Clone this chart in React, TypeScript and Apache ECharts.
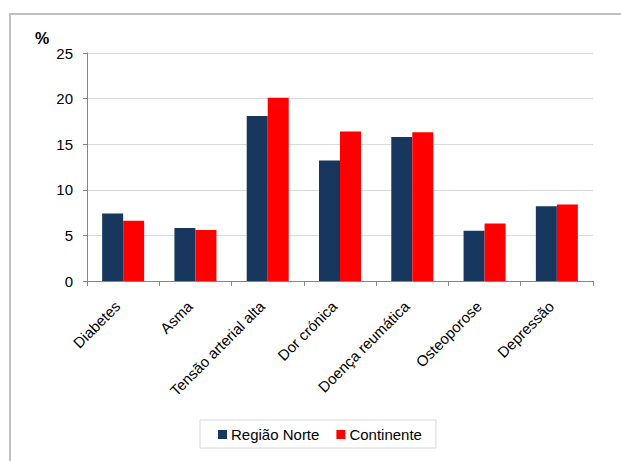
import React, { useEffect, useRef } from "react";
import * as echarts from "echarts";

const categories = [
  "Diabetes",
  "Asma",
  "Tensão arterial alta",
  "Dor crónica",
  "Doença reumática",
  "Osteoporose",
  "Depressão",
];
const regiaoNorte = [7.4, 5.8, 18.1, 13.2, 15.8, 5.5, 8.2];
const continente = [6.6, 5.6, 20.1, 16.4, 16.3, 6.3, 8.4];
const seriesNames = ["Região Norte", "Continente"];

export default function App() {
  const ref = useRef<HTMLDivElement>(null);
  useEffect(() => {
    if (!ref.current) return;
    const chart = echarts.init(ref.current, null, { renderer: "svg" });
    const font = "'Liberation Sans', Arial, sans-serif";
    chart.setOption({
      animation: false,
      textStyle: { fontFamily: font },
      graphic: [
        {
          type: "rect",
          shape: { x: 10, y: 14, width: 700, height: 500 },
          style: { fill: "none", stroke: "#bfbfbf", lineWidth: 2 },
          silent: true,
        },
        {
          type: "text",
          left: 35,
          top: 30,
          style: { text: "%", font: "bold 16px " + font, fill: "#000" },
        },
      ],
      grid: { left: 87, right: 28, top: 53, bottom: 180 },
      legend: {
        data: seriesNames,
        left: 200,
        top: 420,
        padding: [7, 14, 6, 18],
        borderColor: "#d9d9d9",
        borderWidth: 1,
        itemWidth: 9,
        itemHeight: 9,
        itemGap: 17,
        icon: "rect",
        textStyle: { fontSize: 15, color: "#000", fontFamily: font, padding: [0, 0, 0, -1] },
      },
      xAxis: {
        type: "category",
        data: categories,
        axisLine: { lineStyle: { color: "#868686" } },
        axisTick: { show: true, length: 5, lineStyle: { color: "#868686" } },
        axisLabel: {
          rotate: 45,
          interval: 0,
          fontSize: 15,
          color: "#000",
          margin: 17,
          padding: [0, 8, 0, 0],
          fontFamily: font,
        },
      },
      yAxis: {
        type: "value",
        min: 0,
        max: 25,
        interval: 5,
        axisLine: { show: true, lineStyle: { color: "#868686" } },
        axisTick: { show: true, length: 4, lineStyle: { color: "#868686" } },
        axisLabel: { fontSize: 15, color: "#000", margin: 14, fontFamily: font },
        splitLine: { lineStyle: { color: "#d9d9d9" } },
      },
      series: [
        {
          name: seriesNames[0],
          type: "bar",
          data: regiaoNorte,
          barWidth: 21,
          barGap: "0%",
          itemStyle: { color: "#17375e" },
        },
        {
          name: seriesNames[1],
          type: "bar",
          data: continente,
          barWidth: 21,
          barGap: "0%",
          itemStyle: { color: "#ff0000" },
        },
      ],
    });
    return () => chart.dispose();
  }, []);
  return (
    <div
      ref={ref}
      style={{ position: "absolute", left: 0, top: 0, width: 621, height: 461 }}
    />
  );
}
